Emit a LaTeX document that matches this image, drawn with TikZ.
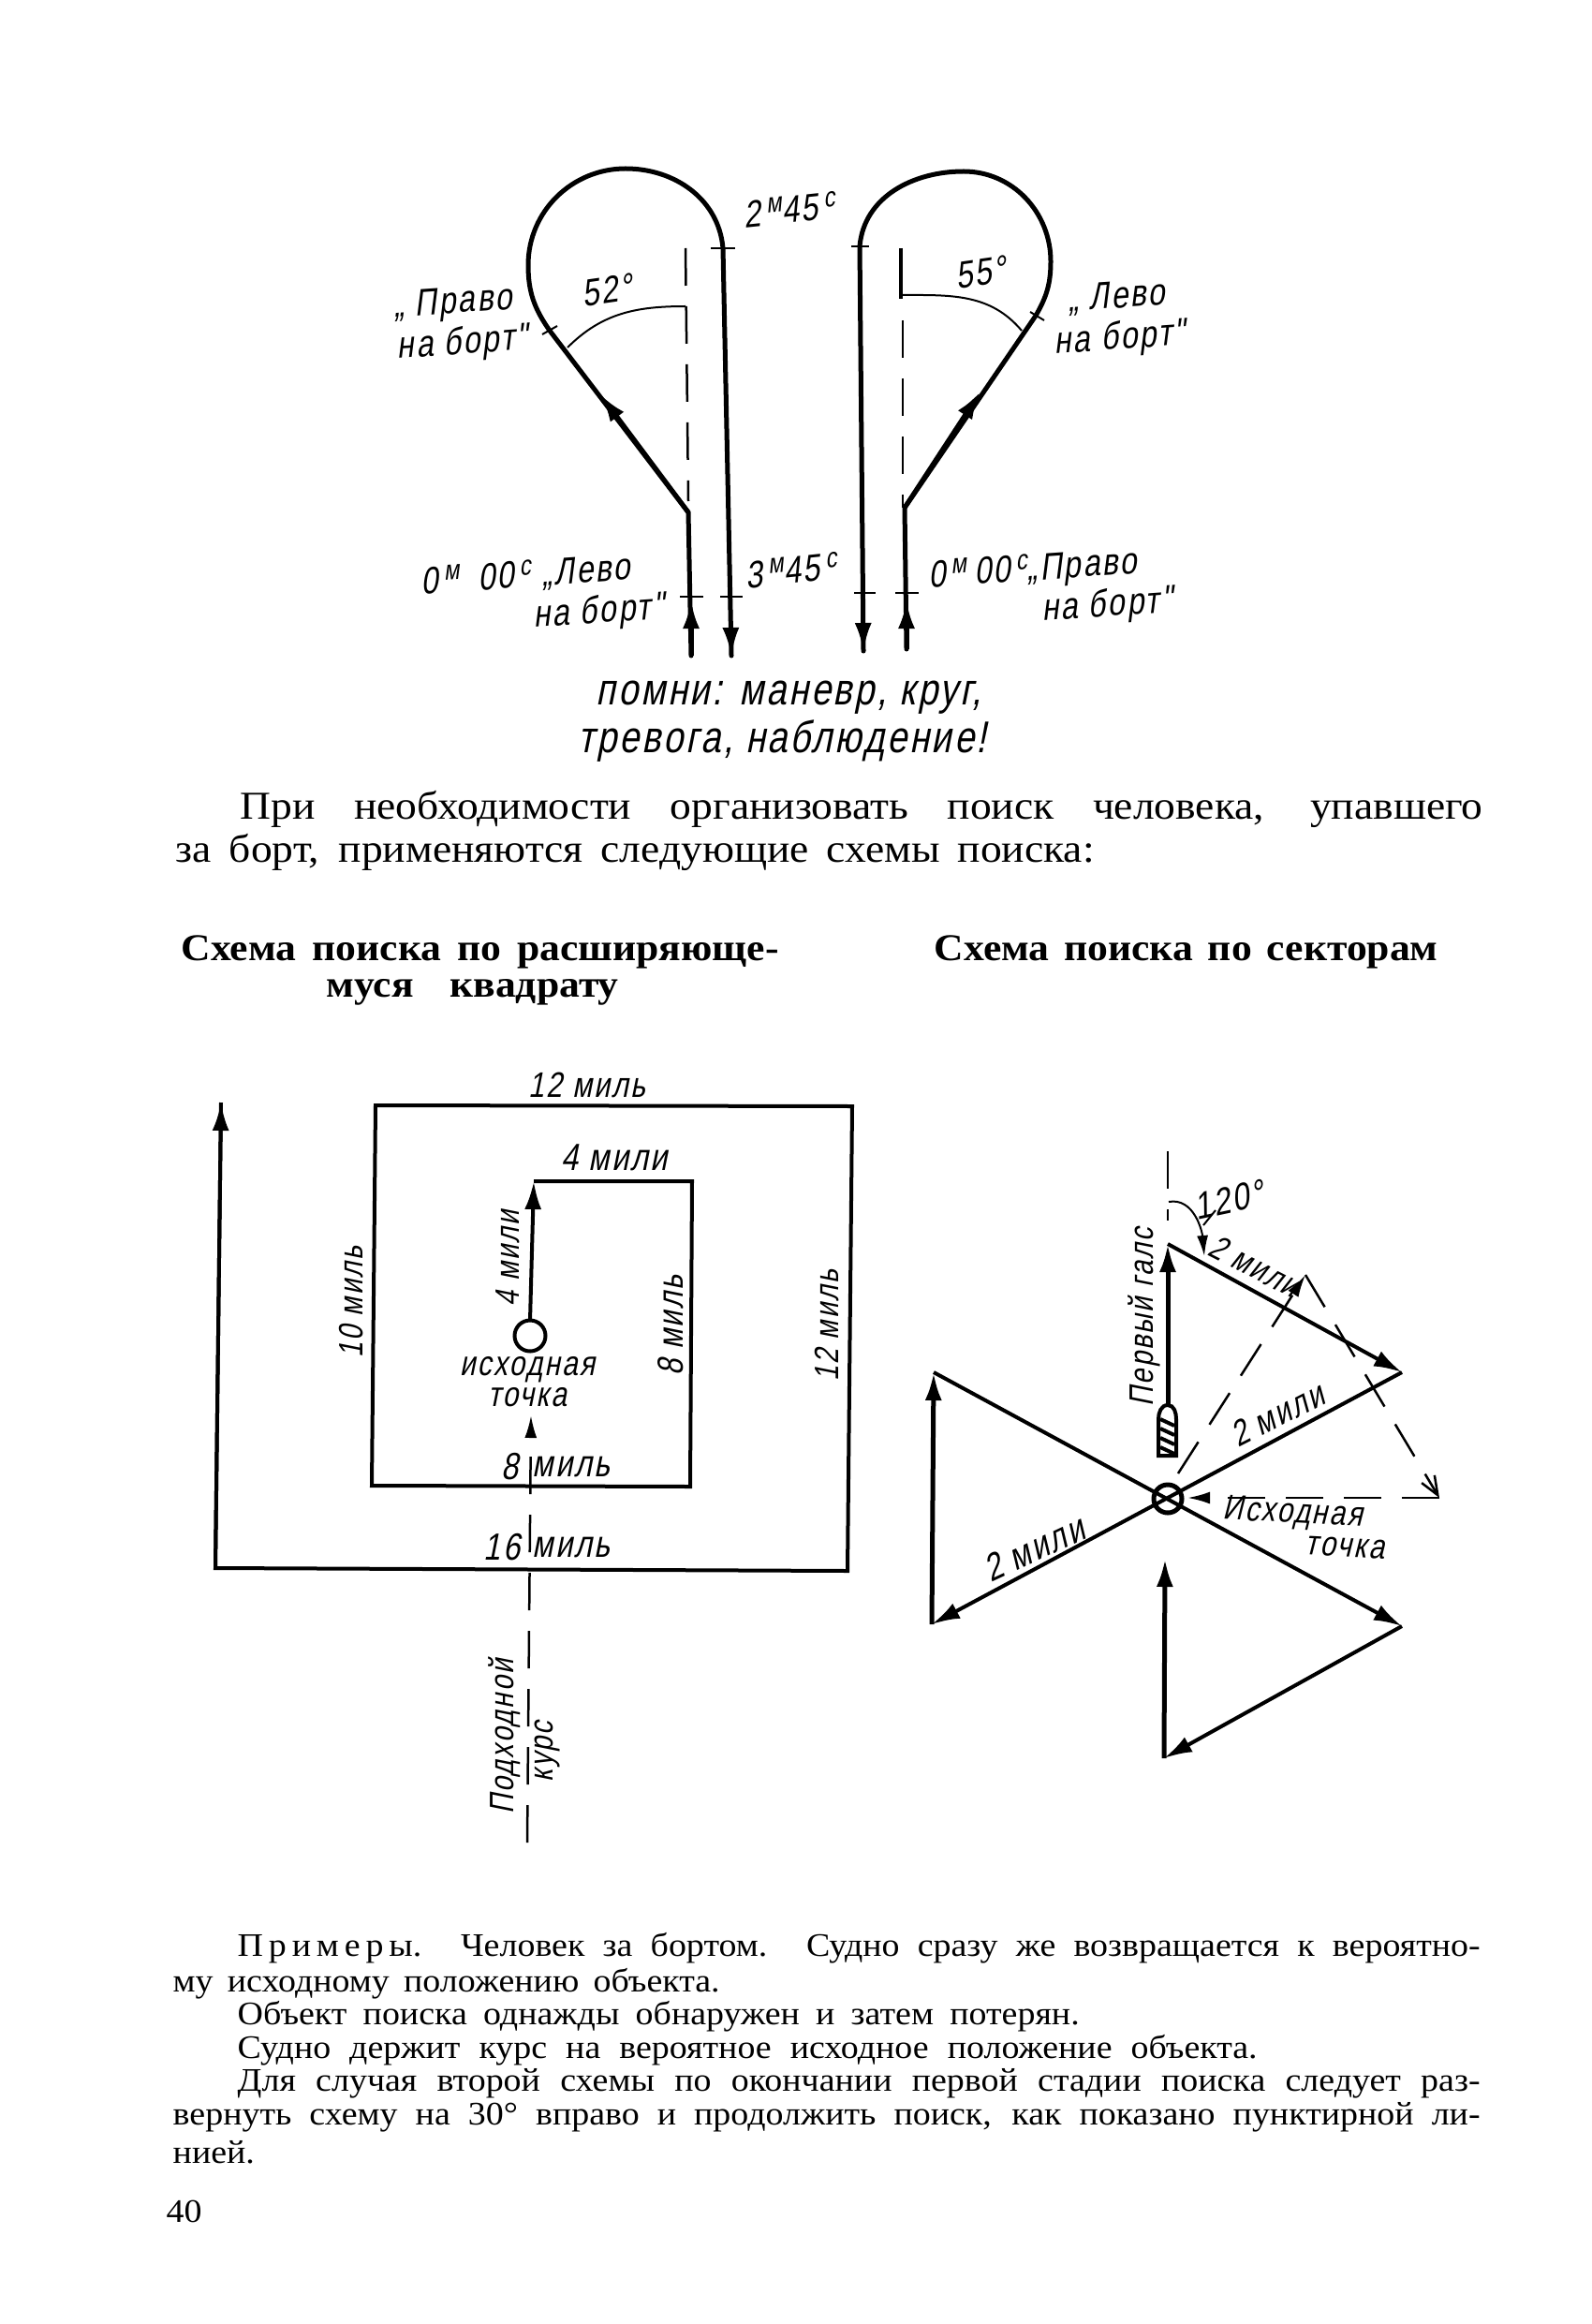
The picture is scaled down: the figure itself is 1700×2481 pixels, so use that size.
\documentclass[tikz,border=0pt]{standalone}
\usepackage{fontspec}
\setmainfont[FakeStretch=1.08]{Liberation Serif}
\newfontfamily\handfont[FakeStretch=0.8,FakeSlant=0.2,LetterSpace=6]{Liberation Sans}
\usetikzlibrary{arrows.meta}
\newcommand{\fitline}[2]{\makebox[#1][s]{#2}}
\newcommand{\upsign}[1]{\raisebox{0.6ex}{\,\fontsize{8.5}{9}\selectfont #1}}

\begin{document}
\begin{tikzpicture}[
      x = 0.1mm,
      y = -0.1mm,
      >={Latex[length=3mm,width=1.8mm]},
      thickline/.style={line width = 0.5mm},
      midline/.style={line width = 0.4mm},
      thinline/.style={line width = 0.2mm},
      dashline/.style={line width = 0.25mm, dash pattern = on 4mm off 2.2mm},
      hand/.style={font = \handfont\fontsize{11.5}{12.5}\selectfont, inner sep = 0pt, align = center},
      handnarrow/.style={hand, font = \handfont\fontsize{10.3}{11}\selectfont},
      handtight/.style={hand, font = \handfont\fontsize{10.6}{9.5}\selectfont},
      bodyline/.style={anchor = west, inner sep = 0pt, font = \fontsize{12}{13}\selectfont},
      noteline/.style={anchor = west, inner sep = 0pt, font = \fontsize{10}{10.5}\selectfont},
      headline/.style={anchor = west, inner sep = 0pt, font = \bfseries\fontsize{11.5}{13}\selectfont},
    ]
    \useasboundingbox (0,0) rectangle (1700,2481);

    % left turn
    \coordinate (la) at (738,700);
    \coordinate (lb) at (735,547);
    \coordinate (lc) at (587,353);
    \coordinate (ld) at (564,283);
    \coordinate (le) at (668,180);
    \coordinate (lf) at (772,265);
    \coordinate (lg) at (781,700);
    \coordinate (lh) at (641,421);
    \draw[thickline, line cap = round] (la) -- (lb) -- (lc) to[out=125, in=-90] (ld) to[out=90, in=180] (le) to[out=0, in=95] (lf) -- (lg);
    \draw[->, thickline] (la) -- (738,641);
    \draw[->, thickline] (lb) -- (lh);
    \draw[->, midline] (lf) -- (lg);
    \draw[dashline] (732,265) -- (735,535);
    \draw[thinline] (606,371) to[out=45, in=180] (732,327);
    \draw[thinline] (759,265) -- (785,265);
    \draw[thinline] (579,357) -- (595,348);
    \draw[thinline] (726,637) -- (751,637);
    \draw[thinline] (769,637) -- (793,637);

    % right turn
    \coordinate (ra) at (968,693);
    \coordinate (rb) at (966,542);
    \coordinate (rc) at (1106,337);
    \coordinate (rd) at (1122,279);
    \coordinate (re) at (1029,183);
    \coordinate (rf) at (918,263);
    \coordinate (rg) at (922,695);
    \coordinate (rh) at (1047,418);
    \draw[thickline, line cap = round] (ra) -- (rb) -- (rc) to[out=60, in=-90] (rd) to[out=90, in=0] (re) to[out=180, in=85] (rf) -- (rg);
    \draw[->, thickline] (ra) -- (968,641);
    \draw[->, thickline] (rb) -- (rh);
    \draw[->, midline] (rf) -- (rg);
    \draw[midline] (962,265) -- (962,319);
    \draw[dashline] (964,342) -- (964,542);
    \draw[thinline] (962,315) to[out=0, in=130] (1091,353);
    \draw[thinline] (909,263) -- (928,263);
    \draw[thinline] (1100,333) -- (1115,342);
    \draw[thinline] (912,633) -- (935,633);
    \draw[thinline] (956,633) -- (981,633);

    \node[hand, rotate=6] (timea) at (843,224) {2\upsign{м}45\upsign{с}};
    \node[hand, rotate=8] (ang52) at (648,310) {52°};
    \node[hand, rotate=8] (ang55) at (1047,291) {55°};
    \node[hand, rotate=4, anchor=west, align=left] (rudr) at (422,351) {„ Право\\на борт"};
    \node[hand, rotate=4] (rudl) at (1194,341) {„ Лево\\на борт"};
    \node[hand, rotate=4, anchor=east, align=right] (zerol) at (708,628) {0\upsign{м}\hspace{0.8mm} 00\upsign{с} „Лево\rule{3.3mm}{0pt}\\на борт"};
    \node[hand, rotate=6] (timeb) at (845,609) {3\upsign{м}45\upsign{с}};
    \node[hand, rotate=4, anchor=east, align=right] (zeror) at (1251,621) {0\upsign{м}\hspace{0.8mm}00\upsign{с}„Право\rule{3.5mm}{0pt}\\на борт"};
    \node[hand, anchor=west, align=left, font=\handfont\fontsize{13.5}{14.5}\selectfont] (rem) at (617,770) {\rule{1.9mm}{0pt}помни: маневр, круг,\\тревога, наблюдение!};

    \node[bodyline] (pa) at (256,864) {\fitline{132.7mm}{При необходимости организовать поиск человека, упавшего}};
    \node[bodyline] (pb) at (187,910) {\fitline{98.1mm}{за борт, применяются следующие схемы поиска:}};
    \node[headline] (hla) at (193,1016) {\fitline{63.8mm}{Схема поиска по расширяюще-}};
    \node[headline] (hlb) at (348,1059) {\fitline{31.2mm}{муся квадрату}};
    \node[headline] (hra) at (997,1016) {\fitline{53.8mm}{Схема поиска по секторам}};

    % expanding square
    \coordinate (sa) at (566,1410);
    \coordinate (sb) at (570,1261);
    \coordinate (sc) at (739,1261);
    \coordinate (sd) at (737,1587);
    \coordinate (se) at (397,1586);
    \coordinate (sf) at (401,1180);
    \coordinate (sg) at (910,1181);
    \coordinate (sh) at (905,1677);
    \coordinate (si) at (230,1674);
    \coordinate (sj) at (236,1177);
    \draw[midline] (sb) -- (sc) -- (sd) -- (se) -- (sf) -- (sg) -- (sh) -- (si) -- (sj);
    \draw[->, midline] (si) -- (sj);
    \draw[->, midline] (sa) -- (sb);
    \node[draw, circle, midline, minimum size = 3.3mm, inner sep = 0pt] (start) at (566,1426) {};
    \coordinate (course) at (563,1967);
    \coordinate (coursetop) at (567,1511);
    \draw[dashline, -{Latex[length=2.4mm,width=1.3mm]}] (course) -- (coursetop);

    \node[hand, font=\handfont\fontsize{10.8}{12}\selectfont] (top) at (627,1158) {12 миль};
    \node[hand] (four) at (656,1236) {4 мили};
    \node[handnarrow, rotate=90] (fourv) at (542,1343) {4 мили};
    \node[handnarrow, rotate=90] (ten) at (375,1390) {10 миль};
    \node[hand, font=\handfont\fontsize{11}{12}\selectfont, rotate=90] (eightv) at (716,1415) {8 миль};
    \node[handnarrow, rotate=90] (twelve) at (883,1415) {12 миль};
    \node[handtight] (orig) at (563,1475) {исходная\\точка};
    \node[hand] (eight) at (544,1566) {8};
    \node[hand] (eightm) at (610,1566) {миль};
    \node[hand] (sixt) at (536,1652) {16};
    \node[hand] (sixtm) at (610,1652) {миль};
    \node[handnarrow, rotate=90] (appr) at (539,1854) {Подходной};
    \node[handnarrow, rotate=90] (appc) at (585,1870) {курс};

    % sector search
    \coordinate (ta) at (1247,1328);
    \coordinate (tb) at (1497,1465);
    \coordinate (tc) at (995,1734);
    \coordinate (td) at (997,1465);
    \coordinate (te) at (1497,1736);
    \coordinate (tf) at (1243,1877);
    \coordinate (tg) at (1244,1664);
    \coordinate (tk) at (1394,1361);
    \coordinate (tl) at (1537,1599);
    \coordinate (tm) at (1268,1599);
    \node[draw, circle, thickline, minimum size = 3mm, inner sep = 0pt] (origin) at (1247,1600) {};
    \draw[dashline] (1247,1229) -- (1247,1303);
    \draw[->, thickline] (1247,1500) -- (ta);
    \draw[->, midline] (ta) -- (tb);
    \draw[->, midline] (tb) -- (tc);
    \draw[->, thickline] (tc) -- (td);
    \draw[->, midline] (td) -- (te);
    \draw[->, midline] (te) -- (tf);
    \draw[->, thickline] (tf) -- (tg);
    \draw[dashline, -{Latex[length=2.4mm,width=1.3mm]}] (1258,1573) -- (tk);
    \draw[dashline, -{Straight Barb[length=2mm,width=1.6mm]}] (tk) -- (tl);
    \draw[dashline, -{Latex[length=2.4mm,width=1.3mm]}] (tl) -- (tm);
    \draw[-{Latex[length=2.2mm,width=1.2mm]}, thinline] (1248,1283) to[out=10, in=95] (1286,1341);
    \draw[thinline] (1285,1308) -- (1298,1292);
    % boat
    \draw[midline, fill=white] (1237,1554) -- (1237,1515) to[out=90, in=180] (1247,1500) to[out=0, in=90] (1256,1515) -- (1256,1554) -- cycle;
    \draw[midline] (1239,1515) -- (1254,1522) (1239,1525) -- (1254,1532) (1239,1535) -- (1254,1542) (1239,1545) -- (1254,1552);

    \node[hand, rotate=12] (ang) at (1312,1281) {120°};
    \node[handnarrow, rotate=90] (firstleg) at (1222,1406) {Первый галс};
    \node[handnarrow, rotate=-27] (legb) at (1340,1352) {2 мили};
    \node[hand, font=\handfont\fontsize{10.8}{12}\selectfont, rotate=27] (legc) at (1364,1510) {2 мили};
    \node[hand, rotate=25] (legd) at (1104,1653) {2 мили};
    \node[handtight, rotate=-3, anchor=east, align=right] (orign) at (1480,1635) {Исходная\rule{2.5mm}{0pt}\\точка};

    \node[noteline] (na) at (253,2080) {\fitline{132.7mm}{П\,р\,и\,м\,е\,р\,ы. Человек за бортом. Судно сразу же возвращается к вероятно-}};
    \node[noteline] (nb) at (184,2118) {\fitline{58.4mm}{му исходному положению объекта.}};
    \node[noteline] (nc) at (253,2153) {\fitline{89.9mm}{Объект поиска однажды обнаружен и затем потерян.}};
    \node[noteline] (nd) at (253,2189) {\fitline{108.9mm}{Судно держит курс на вероятное исходное положение объекта.}};
    \node[noteline] (ne) at (253,2224) {\fitline{132.7mm}{Для случая второй схемы по окончании первой стадии поиска следует раз-}};
    \node[noteline] (nf) at (184,2260) {\fitline{139.6mm}{вернуть схему на 30° вправо и продолжить поиск, как показано пунктирной ли-}};
    \node[noteline] (ng) at (184,2298) {\fitline{7.7mm}{нией.}};
    \node[noteline] (pageno) at (177,2361) {40};
  \end{tikzpicture}
\end{document}
